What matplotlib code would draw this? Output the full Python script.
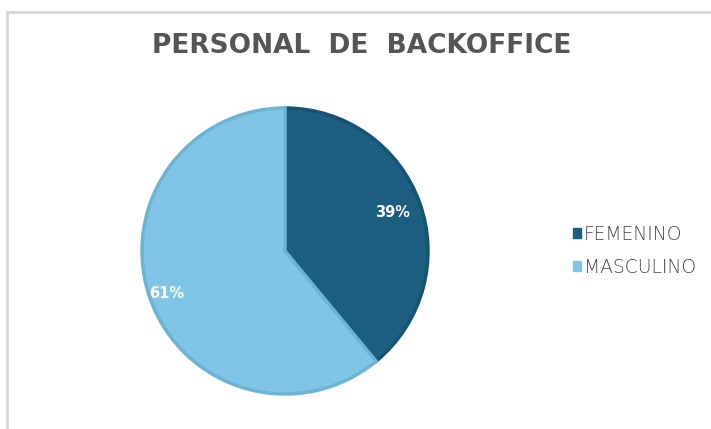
import numpy as np
import matplotlib.pyplot as plt
from matplotlib.patches import Rectangle

categories = ['FEMENINO', 'MASCULINO']
values = [39, 61]
colors = ['#1b5e7f', '#7fc6e6']
edges = ['#165373', '#6db4d4']
label_dist = [0.80, 0.88]

fig = plt.figure(figsize=(7.11, 4.29), dpi=100)
fig.patch.set_facecolor('white')

# chart frame
fig.add_artist(Rectangle((7 / 711, -0.1), 1.2, 1 - 12 / 429 + 0.1, transform=fig.transFigure,
                         fill=False, edgecolor='#d6d6d6', linewidth=2.0))

fig.text(362 / 711, 1 - 46 / 429, 'PERSONAL  DE  BACKOFFICE', ha='center', va='center',
         fontsize=19, fontweight='bold', color='#555555', family='DejaVu Sans')

ax = fig.add_axes([(285 - 143) / 711, 1 - (251 + 143) / 429, 286 / 711, 286 / 429])
wedges, texts = ax.pie(values, colors=colors, startangle=90, counterclock=False,
                       wedgeprops=dict(linewidth=2.5))
for w, ec in zip(wedges, edges):
    w.set_edgecolor(ec)
ax.set_xlim(-1.0, 1.0)
ax.set_ylim(-1.0, 1.0)
ax.set_aspect('equal')

for w, v, d in zip(wedges, values, label_dist):
    ang = np.deg2rad((w.theta1 + w.theta2) / 2)
    ax.text(d * np.cos(ang), d * np.sin(ang), f'{v}%', ha='center', va='center',
            color='white', fontsize=10.5, fontweight='bold', family='DejaVu Sans')

handles = [Rectangle((0, 0), 1, 1, color=c) for c in colors]
fig.legend(handles, categories, loc='center left', bbox_to_anchor=(556 / 711, 1 - 251 / 429),
           frameon=False, handlelength=0.45, handleheight=0.45, handletextpad=0.15,
           labelspacing=0.75, labelcolor='#474747',
           prop={'family': 'DejaVu Sans', 'size': 13.5, 'weight': 'light'})

fig.savefig('out.png', dpi=100)
